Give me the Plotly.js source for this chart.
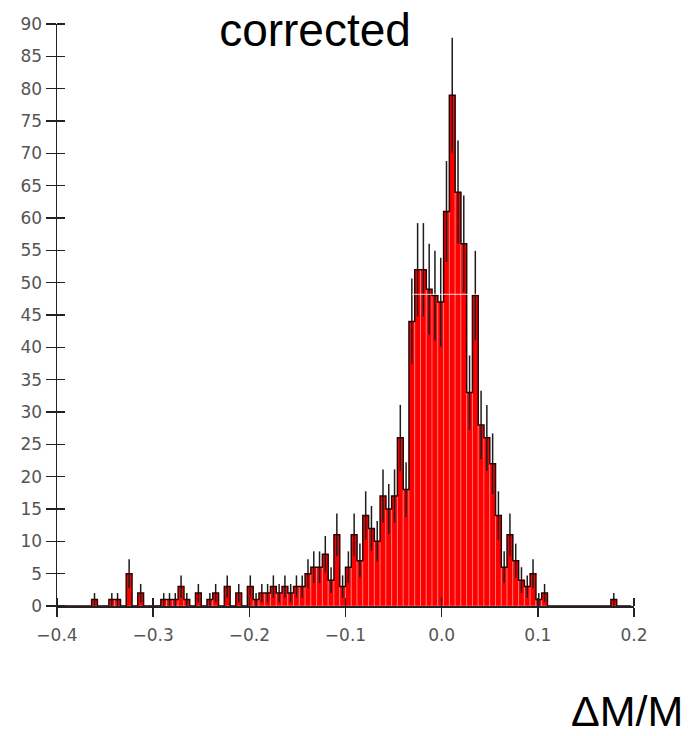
<!DOCTYPE html>
<html>
<head>
<meta charset="utf-8">
<script src="https://cdn.plot.ly/plotly-3.0.1.min.js"></script>
<style>
  html, body { margin: 0; padding: 0; background: #ffffff; }
  #chart { width: 693px; height: 736px; }
</style>
</head>
<body>
<div id="chart"></div>
<script>
// Histogram of ΔM/M ("corrected"), 100 bins of width 0.006 from -0.4 to 0.2
const firstBinCenter = -0.397;
const binWidth = 0.006;
const counts = [
  0, 0, 0, 0, 0, 0, 1, 0, 0, 1,
  1, 0, 5, 0, 2, 0, 0, 0, 1, 1,
  1, 3, 1, 0, 2, 0, 1, 2, 0, 3,
  0, 2, 0, 3, 1, 2, 2, 3, 2, 3,
  2, 3, 3, 5, 6, 6, 8, 4, 11, 3,
  6, 11, 7, 14, 12, 10, 17, 15, 17, 26,
  18, 44, 52, 52, 49, 48, 47, 61, 79, 64,
  56, 33, 48, 28, 26, 22, 14, 6, 11, 7,
  4, 3, 5, 1, 2, 0, 0, 0, 0, 0,
  0, 0, 0, 0, 0, 0, 1, 0, 0, 0
];
const xTickVals = [-0.4, -0.3, -0.2, -0.1, 0.0, 0.1, 0.2];
const yTickVals = [0, 5, 10, 15, 20, 25, 30, 35, 40, 45, 50, 55, 60, 65, 70, 75, 80, 85, 90];
const xRange = [-0.4, 0.2];
const yRange = [0, 90];
const titleText = 'corrected';
const xLabelText = 'ΔM/M';

const tickFont = { family: 'DejaVu Sans, sans-serif', size: 17, color: '#555555' };
const axisColor = '#222222';

const bars = {
  type: 'bar',
  x0: firstBinCenter,
  dx: binWidth,
  y: counts,
  marker: { color: '#ff0000', line: { color: 'rgba(255,175,175,0.75)', width: 0.6 } },
  error_y: { type: 'sqrt', visible: true, color: '#1c1c1c', thickness: 1.5, width: 0 },
  hoverinfo: 'x+y',
  showlegend: false
};

const outline = {
  type: 'scatter',
  mode: 'lines',
  x0: firstBinCenter,
  dx: binWidth,
  y: counts,
  line: { shape: 'hvh', color: '#2a0000', width: 1.5 },
  hoverinfo: 'skip',
  showlegend: false
};

// inward half of each crossing tick, as minor ticks placed on the major ticks
const eps = 1e-7;
const layout = {
  width: 693,
  height: 736,
  margin: { l: 57, r: 59, t: 24, b: 130 },
  paper_bgcolor: '#ffffff',
  plot_bgcolor: '#ffffff',
  bargap: 0,
  showlegend: false,
  title: {
    text: titleText,
    font: { family: 'Liberation Sans, Arial, sans-serif', size: 46, color: '#000000' },
    x: 315 / 693, xanchor: 'center', xref: 'container',
    y: 1 - 30 / 736, yanchor: 'middle', yref: 'container'
  },
  xaxis: {
    range: xRange, autorange: false,
    tickmode: 'array', tickvals: xTickVals, tickformat: '.1f',
    ticks: 'outside', ticklen: 9, tickwidth: 1.5, tickcolor: axisColor,
    minor: {
      tickmode: 'array', tickvals: xTickVals.map(v => v + eps),
      ticks: 'inside', ticklen: 8, tickwidth: 1.5, tickcolor: axisColor, showgrid: false
    },
    showline: true, linecolor: axisColor, linewidth: 1.5,
    showgrid: false, zeroline: false,
    tickfont: tickFont, ticklabelstandoff: 4
  },
  yaxis: {
    range: yRange, autorange: false,
    tickmode: 'array', tickvals: yTickVals,
    ticks: 'outside', ticklen: 10, tickwidth: 1.5, tickcolor: axisColor,
    minor: {
      tickmode: 'array', tickvals: yTickVals.map(v => v + eps),
      ticks: 'inside', ticklen: 8, tickwidth: 1.5, tickcolor: axisColor, showgrid: false
    },
    showline: true, linecolor: axisColor, linewidth: 1.5,
    showgrid: false, zeroline: false,
    tickfont: tickFont
  },
  annotations: [{
    text: xLabelText,
    xref: 'paper', yref: 'paper',
    x: 0.988, y: -0.18, xanchor: 'center', yanchor: 'middle',
    showarrow: false,
    font: { family: 'Liberation Sans, Arial, sans-serif', size: 43, color: '#000000' }
  }],
  shapes: [{
    type: 'line', xref: 'x', yref: 'y', layer: 'above',
    x0: -0.031, x1: 0.0395, y0: 48.2, y1: 48.2,
    line: { color: 'rgba(255,255,255,0.85)', width: 1 }
  }]
};

Plotly.newPlot('chart', [bars, outline], layout, { staticPlot: true, displayModeBar: false });
</script>
</body>
</html>
